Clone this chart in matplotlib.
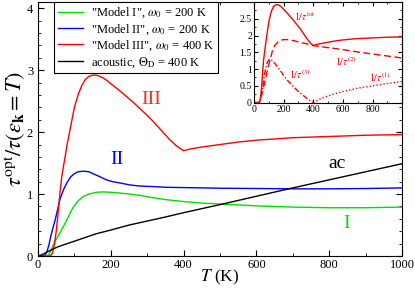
import matplotlib
matplotlib.use('Agg')
import matplotlib.pyplot as plt
from matplotlib.ticker import MultipleLocator

plt.rcParams['font.family'] = ['Liberation Serif', 'DejaVu Serif']
plt.rcParams['mathtext.fontset'] = 'stix'

# main panel data (T in K)
T1 = [0, 25, 30, 35, 42, 50, 60, 70, 79, 88, 97, 110, 124, 140, 161, 180, 197, 220, 252, 280,
      307, 352, 400, 450, 500, 600, 700, 800, 900, 1000]
model1 = [0, 0, 0.03, 0.08, 0.18, 0.27, 0.37, 0.48, 0.58, 0.69, 0.79, 0.89, 0.96, 1.0, 1.03, 1.035,
          1.03, 1.02, 1.0, 0.98, 0.95, 0.91, 0.88, 0.855, 0.84, 0.81, 0.79, 0.78, 0.78, 0.79]

T2 = [0, 15, 20, 25, 30, 35, 40, 47, 55, 60, 70, 80, 90, 100, 110, 124, 140, 151, 170, 188,
      205, 225, 250, 279, 320, 352, 400, 500, 600, 700, 800, 900, 1000]
model2 = [0, 0, 0.02, 0.08, 0.18, 0.32, 0.43, 0.58, 0.78, 0.91, 1.07, 1.19, 1.28, 1.33, 1.36, 1.37,
          1.36, 1.33, 1.28, 1.23, 1.2, 1.18, 1.15, 1.13, 1.12, 1.11, 1.105, 1.095, 1.09, 1.085,
          1.085, 1.09, 1.1]

T3 = [0, 30, 35, 40, 45, 50, 55, 60, 65, 70, 75, 80, 90, 100, 110, 120, 130, 140, 150, 160,
      170, 180, 190, 200, 220, 240, 260, 280, 300, 320, 340, 360, 380, 400,
      420, 450, 500, 550, 600, 700, 800, 900, 1000]
model3 = [0, 0, 0.01, 0.05, 0.18, 0.4, 0.68, 1.0, 1.27, 1.45, 1.62, 1.8, 2.1, 2.4, 2.6, 2.75,
          2.85, 2.9, 2.92, 2.92, 2.9, 2.87, 2.83, 2.78, 2.69, 2.59, 2.49, 2.38, 2.27, 2.15, 2.02,
          1.89, 1.78, 1.7, 1.73, 1.76, 1.8, 1.84, 1.87, 1.91, 1.93, 1.95, 1.96]

Tac = [0, 10, 20, 30, 40, 55, 70, 85, 100, 130, 160, 200, 250, 300, 350, 400, 500, 600, 700,
       800, 900, 1000]
acoustic = [0, 0.02, 0.05, 0.08, 0.11, 0.15, 0.18, 0.21, 0.24, 0.3, 0.36, 0.42, 0.5, 0.565,
            0.63, 0.7, 0.83, 0.965, 1.1, 1.23, 1.36, 1.49]

# inset data, "Model III" split into channels
Tin = [0, 30, 40, 50, 60, 70, 80, 90, 100, 110, 125, 140, 150, 160, 175, 190, 200, 225, 250,
       275, 300, 325, 350, 375, 400, 450, 500, 550, 600, 650, 700, 800, 900, 1000]
inv_tau2 = [0, 0, 0.03, 0.2, 0.4, 0.55, 0.75, 0.95, 1.13, 1.3, 1.55, 1.7, 1.75, 1.8, 1.84, 1.87,
            1.88, 1.88, 1.86, 1.84, 1.81, 1.78, 1.76, 1.73, 1.7, 1.67, 1.64, 1.61, 1.58, 1.545,
            1.51, 1.45, 1.39, 1.33]
inv_tau3 = [0, 0, 0.03, 0.2, 0.5, 0.8, 1.05, 1.2, 1.27, 1.3, 1.25, 1.17, 1.12, 1.06, 0.97, 0.88,
            0.8, 0.67, 0.55, 0.44, 0.33, 0.24, 0.15, 0.07, 0,
            None, None, None, None, None, None, None, None, None]
inv_tau1 = [None] * 24 + [0, 0.12, 0.2, 0.27, 0.33, 0.38, 0.43, 0.5, 0.57, 0.63]

fig = plt.figure(figsize=(4.15, 2.89), dpi=100)
ax = fig.add_axes([0.0916, 0.114, 0.877, 0.879])

ax.plot(T1, model1, color='#00e000', lw=1.0, label='"Model I", $\\omega_0$ = 200 K')
ax.plot(T2, model2, color='#0000ff', lw=1.0, label='"Model II", $\\omega_0$ = 200 K')
ax.plot(T3, model3, color='#ff0000', lw=1.0, label='"Model III", $\\omega_0$ = 400 K')
ax.plot(Tac, acoustic, color='black', lw=1.0, label='acoustic, $\\Theta_{\\rm D}$ = 400 K')

ax.text(312, 2.53, 'III', color='#ff2a1a', fontsize=14, ha='center', va='center')
ax.text(216, 1.56, 'II', color='#0000ff', fontsize=14, ha='center', va='center')
ax.text(849, 0.53, 'I', color='#00e000', fontsize=14, ha='center', va='center')
ax.text(822, 1.5, 'ac', color='black', fontsize=14, ha='center', va='center')

ax.set_xlim(0, 1000)
ax.set_ylim(0, 4.1)
ax.xaxis.set_major_locator(MultipleLocator(200))
ax.xaxis.set_minor_locator(MultipleLocator(100))
ax.yaxis.set_major_locator(MultipleLocator(1))
ax.yaxis.set_minor_locator(MultipleLocator(0.2))
ax.tick_params(which='both', direction='in', top=True, right=True, labelsize=9)
ax.tick_params(which='major', length=4)
ax.tick_params(which='minor', length=2)
ax.tick_params(axis='x', pad=2)
ax.set_xlabel('$T$ (K)', fontsize=12.5, labelpad=-2)
ax.set_ylabel('$\\tau^{\\rm opt}/\\tau(\\varepsilon_{\\mathbf{k}}=T)$', fontsize=16, labelpad=0)

leg = ax.legend(loc='upper left', bbox_to_anchor=(0.045, 1.0), fontsize=9, frameon=True,
                fancybox=False, framealpha=1, edgecolor='black', handlelength=2.0,
                borderpad=0.3, labelspacing=0.15, handletextpad=0.6, borderaxespad=0)
leg.get_frame().set_linewidth(0.8)

# inset
axin = fig.add_axes([0.612, 0.645, 0.357, 0.348])
axin.plot(T3, model3, color='#ff0000', lw=1.0)
axin.plot(Tin, inv_tau2, color='#ff0000', lw=1.0, ls=(0, (5, 2.5)))
axin.plot(Tin, inv_tau3, color='#ff0000', lw=1.0, ls=(0, (4, 1.5, 1, 1.5)))
axin.plot(Tin, inv_tau1, color='#ff0000', lw=1.0, ls=(0, (1, 1.5)))

axin.text(342, 2.57, '$1/\\tau^{\\rm tot}$', color='#ff0000', fontsize=7, ha='center', va='center')
axin.text(624, 1.23, '$1/\\tau^{(2)}$', color='#ff0000', fontsize=7, ha='center', va='center')
axin.text(308, 0.86, '$1/\\tau^{(3)}$', color='#ff0000', fontsize=7, ha='center', va='center')
axin.text(849, 0.75, '$1/\\tau^{(1)}$', color='#ff0000', fontsize=7, ha='center', va='center')

axin.set_xlim(0, 1000)
axin.set_ylim(0, 3)
axin.xaxis.set_minor_locator(MultipleLocator(100))
axin.yaxis.set_minor_locator(MultipleLocator(0.25))
axin.set_xticks([0, 200, 400, 600, 800])
axin.set_yticks([0, 0.5, 1, 1.5, 2, 2.5])
axin.set_yticklabels(['0', '0.5', '1', '1.5', '2', '2.5'])
axin.tick_params(which='both', direction='in', top=True, right=True, labelsize=7, pad=1.5)
axin.tick_params(which='major', length=3)
axin.tick_params(which='minor', length=1.5)

fig.savefig('out.png', dpi=100)
